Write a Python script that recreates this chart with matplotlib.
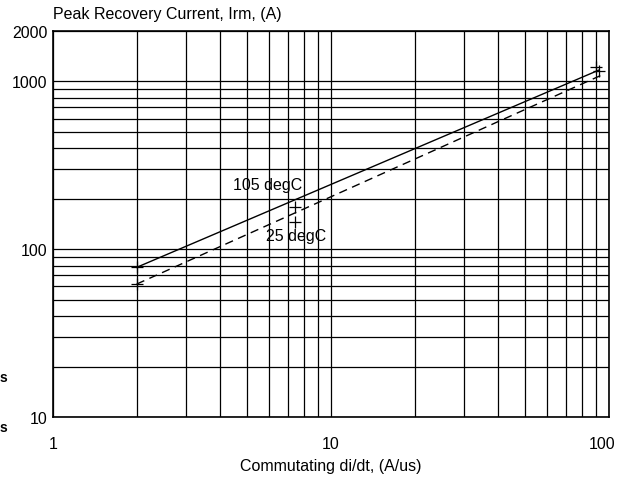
import matplotlib
matplotlib.use("Agg")
import matplotlib.pyplot as plt
import matplotlib.transforms as mtransforms
from matplotlib.ticker import LogLocator, NullFormatter, FixedLocator, FixedFormatter

plt.rcParams['font.family'] = ['Liberation Sans', 'DejaVu Sans']
fs = 11.5

# data
x_105 = [2, 92]
y_105 = [78, 1170]
x_25 = [2, 95]
y_25 = [62, 1100]
mark_x = [2, 2, 7.4, 7.4, 90, 92]
mark_y = [78, 62, 178, 145, 1220, 1150]
xticks = [1, 10, 100]
xtick_labels = ["1", "10", "100"]
yticks = [10, 100, 1000, 2000]
ytick_labels = ["10", "100", "1000", "2000"]

fig = plt.figure(figsize=(6.2, 4.85), dpi=100)
ax = fig.add_axes([53/620, 1-418/485, (609-53)/620, (418-32)/485])
ax.set_xscale('log')
ax.set_yscale('log')
ax.set_xlim(1, 100)
ax.set_ylim(10, 2000)

ax.plot(x_105, y_105, color='black', lw=1.0, ls='-')
ax.plot(x_25, y_25, color='black', lw=1.0, ls=(0, (6, 4)))
ax.plot(mark_x, mark_y, ls='none', marker='+', ms=9, mew=0.9, color='black')

ax.xaxis.set_major_locator(FixedLocator(xticks))
ax.xaxis.set_major_formatter(FixedFormatter(xtick_labels))
ax.xaxis.set_minor_locator(LogLocator(base=10, subs=range(2, 10)))
ax.xaxis.set_minor_formatter(NullFormatter())
ax.yaxis.set_major_locator(FixedLocator(yticks))
ax.yaxis.set_major_formatter(FixedFormatter(ytick_labels))
ax.yaxis.set_minor_locator(LogLocator(base=10, subs=range(2, 10)))
ax.yaxis.set_minor_formatter(NullFormatter())

ax.grid(True, which='both', color='black', lw=0.9)
ax.tick_params(which='both', length=0, labelsize=fs)
ax.tick_params(axis='x', pad=14)
ax.tick_params(axis='y', pad=4)
for s in ax.spines.values():
    s.set_color('black')
    s.set_linewidth(1.2)

# nudge last x tick label left so it stays inside the image
fig.canvas.draw()
lbls = ax.get_xticklabels()
off = mtransforms.ScaledTranslation(-7/100, 0, fig.dpi_scale_trans)
lbls[-1].set_transform(lbls[-1].get_transform() + off)

ax.annotate("105 degC", xy=(4.45, 243), fontsize=fs, ha='left', va='center')
ax.annotate("25 degC", xy=(5.85, 120), fontsize=fs, ha='left', va='center')

fig.text(53/620, 1-15/485, "Peak Recovery Current, Irm, (A)", fontsize=fs, ha='left', va='center')
fig.text(331/620, 1-467/485, "Commutating di/dt, (A/us)", fontsize=fs, ha='center', va='center')
fig.text(0/620, 1-378/485, "s", fontsize=10, fontweight='bold', ha='left', va='center')
fig.text(0/620, 1-428/485, "s", fontsize=10, fontweight='bold', ha='left', va='center')

fig.savefig("out.png", dpi=100)
